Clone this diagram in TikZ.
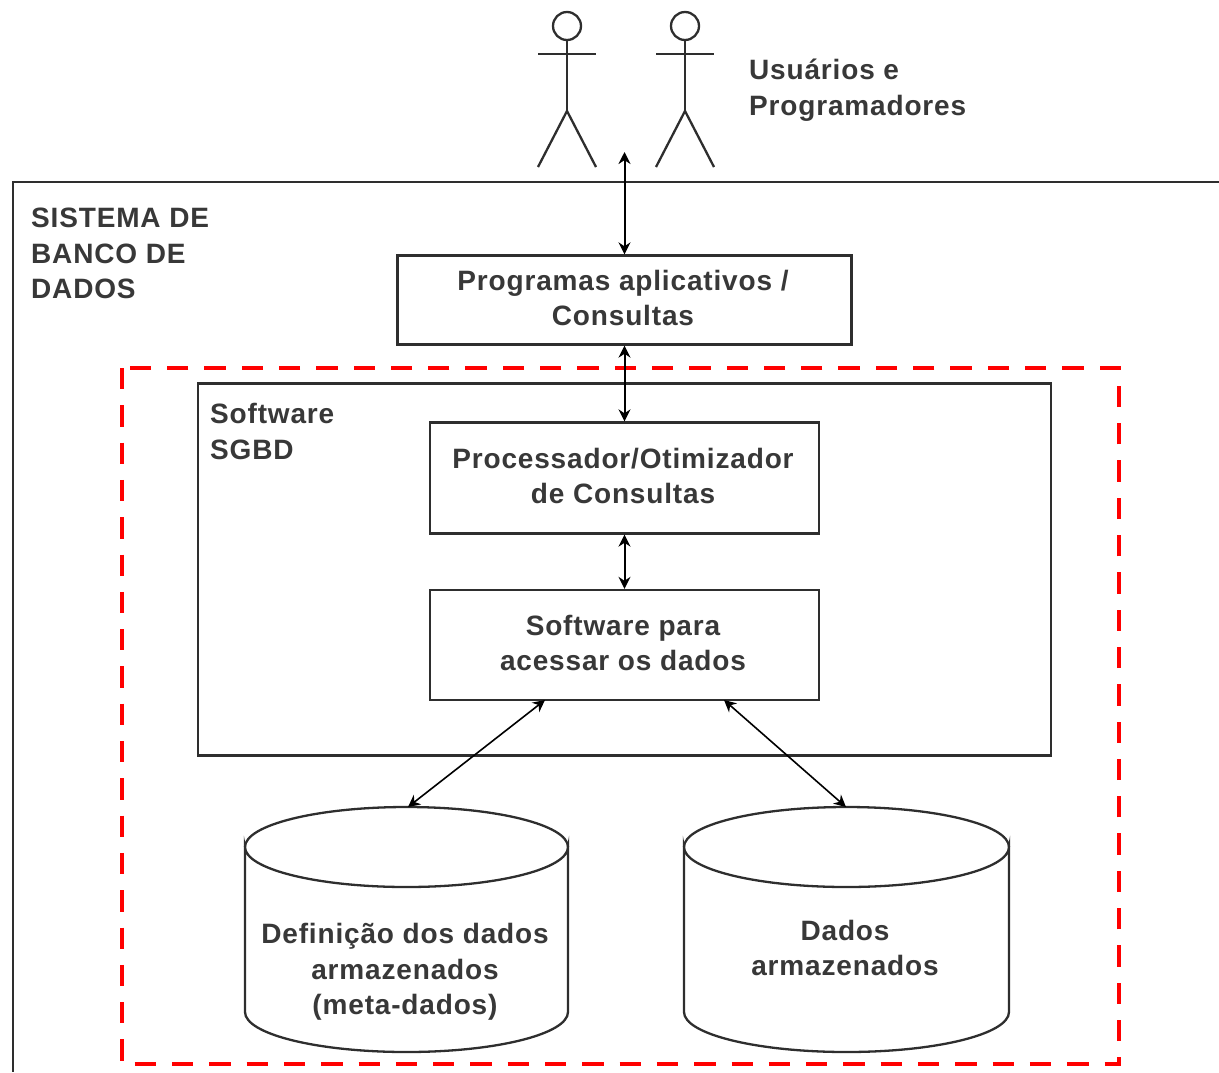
\documentclass[tikz,border=0pt]{standalone}
\usepackage{fontspec}
\setmainfont[LetterSpace=3]{Liberation Sans}
\usetikzlibrary{arrows.meta}
\begin{document}
\begin{tikzpicture}[x=1pt,y=-1pt,
  line/.style={draw=black!82,line width=2.3pt},
  box/.style={line,fill=white,inner sep=0pt,align=center},
  lbl/.style={font=\fontsize{28}{35.5}\selectfont\bfseries,text=black!78,align=center,inner sep=0pt},
  lbll/.style={lbl,align=left,anchor=north west},
  dbl/.style={draw=black,line width=2pt,{Stealth[length=12pt,width=12pt]}-{Stealth[length=12pt,width=12pt]}},
  dbld/.style={dbl,line width=1.6pt}]
\useasboundingbox (0,0) rectangle (1219,1072);
% outer frame
\draw[line] (1219,182) -- (13,182) -- (13,1072);
\node[lbll] (title) at (31,208) {SISTEMA DE\\BANCO DE\\DADOS};
% actors
\foreach \x/\n in {567/a,685/b}{
  \node[circle,line,minimum size=28pt,inner sep=0pt] (head\n) at (\x,26) {};
  \coordinate (hip\n) at (\x,111);
  \draw[line] (head\n.south) -- (hip\n);
  \draw[line] (\x-29,54) -- (\x+29,54);
  \draw[line] (\x-29,167) -- (hip\n) -- (\x+29,167);
}
\node[lbll] (users) at (749,59) {Usuários e\\Programadores};
% red dashed
\draw[draw=red,line width=4.5pt,dash pattern=on 21.3pt off 16pt] (122,368) rectangle (1119,1064);
% boxes
\node[box,minimum width=454pt,minimum height=89pt] (apps) at (624.5,300) {};
\node[lbl] (appst) at (623,298) {Programas aplicativos /\\Consultas};
\node[box,minimum width=853pt,minimum height=372pt] (sgbd) at (624.5,569.5) {};
\node[lbll] (sgbdt) at (210,403.5) {Software\\SGBD};
\node[box,minimum width=389pt,minimum height=111pt] (proc) at (624.5,478) {};
\node[lbl] (proct) at (623,476) {Processador/Otimizador\\de Consultas};
\node[box,minimum width=389pt,minimum height=110pt] (soft) at (624.5,645) {};
\node[lbl] (softt) at (623,643) {Software para\\acessar os dados};
% cylinders
\draw[line,fill=white] (245,847) arc[x radius=161.5,y radius=40,start angle=180,end angle=0] -- (568,1012) arc[x radius=161.5,y radius=40,start angle=0,end angle=180] -- cycle;
\draw[line] (245,847) arc[x radius=161.5,y radius=40,start angle=180,end angle=360];
\draw[line,fill=white] (684,847) arc[x radius=162.5,y radius=40,start angle=180,end angle=0] -- (1009,1012) arc[x radius=162.5,y radius=40,start angle=0,end angle=180] -- cycle;
\draw[line] (684,847) arc[x radius=162.5,y radius=40,start angle=180,end angle=360];
\coordinate (cyl1) at (408,807);
\coordinate (cyl2) at (846,807);
\node[lbl] (c1t) at (405,972) {Definição dos dados\\armazenados\\(meta-dados)};
\node[lbl] (c2t) at (845,948) {Dados\\armazenados};
% connectors
\coordinate (top) at (624.5,152);
\draw[dbl] (top) -- (apps.north -| top);
\draw[dbl] (apps.south) -- (proc.north);
\draw[dbl] (proc.south) -- (soft.north);
\coordinate (s1) at (545,700);
\coordinate (s2) at (724,700);
\draw[dbld] (s1) -- (cyl1);
\draw[dbld] (s2) -- (cyl2);
\end{tikzpicture}
\end{document}
